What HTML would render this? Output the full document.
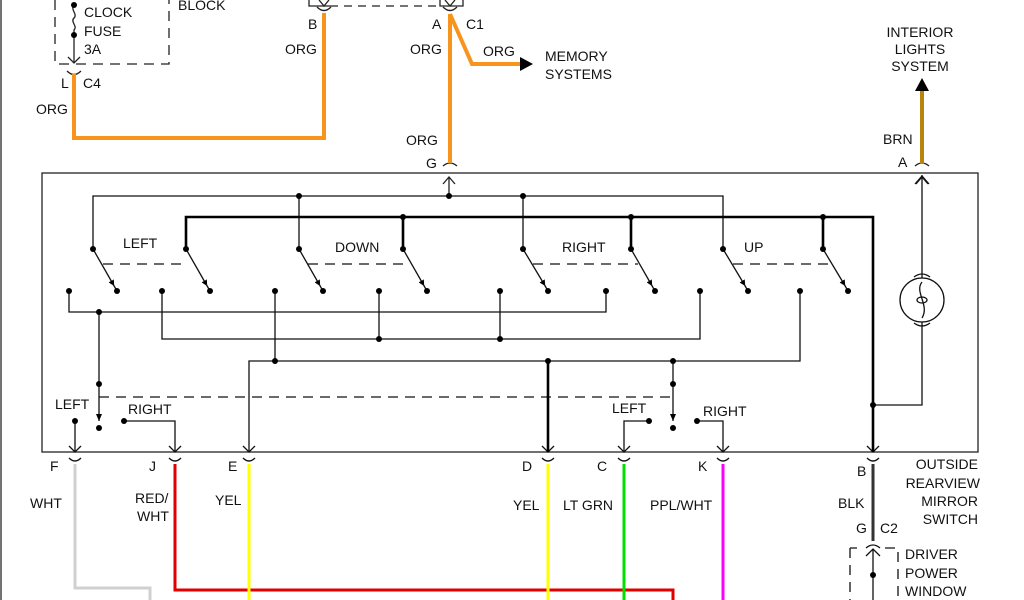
<!DOCTYPE html>
<html><head><meta charset="utf-8"><style>
html,body{margin:0;padding:0;background:#fff;}
svg{display:block}
text{font-family:"Liberation Sans",sans-serif;font-size:14px;fill:#111;}
</style></head><body>
<svg width="1024" height="600" viewBox="0 0 1024 600" xmlns="http://www.w3.org/2000/svg">
<defs>
<marker id="ah" viewBox="0 0 10 10" refX="6" refY="5" markerWidth="6" markerHeight="6" orient="auto" markerUnits="userSpaceOnUse"><path d="M0 0 L10 5 L0 10 z" fill="#000"/></marker>
</defs>
<rect width="1024" height="600" fill="#fff"/>
<line x1="1" y1="0" x2="1" y2="600" stroke="#444" stroke-width="1.5"/>
<g stroke="#222" stroke-width="1.3" fill="none">
<path d="M55 0 V64 H169 V0" stroke-dasharray="10,7"/>
<path d="M74 5 C70 10 78 14 74 18 C70 22 78 26 74 30 V63"/>
<path d="M68 57 L74 63 L80 57"/>
<path d="M67 71 Q74 78 81 71"/>
<path d="M309 0 V6 H330" /><path d="M317 7 Q324 14 331 7"/>
<path d="M330 6 H440" stroke-dasharray="8,6"/>
<path d="M440 0 V6 H463 V0"/>
<path d="M443 7 Q450 14 457 7"/>
<path d="M319 0 L324 6 L329 0 M445 0 L450 6 L455 0"/>
<path d="M443 166 Q450 160 457 166"/>
<path d="M443 184 L449 177 L455 184 M449 177 V196"/>
<path d="M915 166 Q922 160 929 166"/>
<path d="M916 184 L922 177 L928 184"/>
</g>
<g fill="none" stroke="#f7941d" stroke-width="4">
<path d="M74 74 V138 H324 V13"/>
<path d="M450 14 V163"/>
<path d="M450 14 L472 64 H522"/>
</g>
<polygon points="520,57 533,64 520,71" fill="#000"/>
<line x1="922" y1="88" x2="922" y2="164" stroke="#b8860b" stroke-width="4"/>
<polygon points="915,91 929,91 922,78" fill="#000"/>
<rect x="42" y="173" width="936" height="279" fill="none" stroke="#222" stroke-width="1.3"/>
<g stroke="#111" stroke-width="1.3" fill="none">
<path d="M93 249 V196 H723 V249"/>
<path d="M299 196 V249 M523 196 V249"/>
<path d="M69 291 V312 H606 V291"/>
<path d="M162 291 V339 H700 V291"/>
<path d="M379 291 V339 M500 291 V339"/>
<path d="M249 452 V361 H800 V291"/>
<path d="M275 291 V361"/>
<path d="M99 312 V421"/>
<path d="M99 397 H673" stroke-dasharray="10,7"/>
<path d="M673 361 V421"/>
<path d="M75 421 V452 M124 421 H175 V452"/>
<path d="M649 421 H624 V452 M697 421 H723 V452"/>
<path d="M922 175 V278 M922 322 V405 H873"/>
<circle cx="922" cy="300" r="22"/>
<path d="M914 277 Q922 271 930 277 M914 323 Q922 329 930 323"/>
<path d="M922 282 C914 292 930 305 922 318"/>
<ellipse cx="922" cy="300" rx="5" ry="3"/>
<path d="M93 249 L113 284" marker-end="url(#ah)"/>
<path d="M186 249 L206 284" marker-end="url(#ah)"/>
<path d="M299 249 L319 284" marker-end="url(#ah)"/>
<path d="M403 249 L423 284" marker-end="url(#ah)"/>
<path d="M523 249 L544 284" marker-end="url(#ah)"/>
<path d="M631 249 L651 284" marker-end="url(#ah)"/>
<path d="M723 249 L744 284" marker-end="url(#ah)"/>
<path d="M823 249 L844 284" marker-end="url(#ah)"/>
<path d="M113 284 L117 291 M206 284 L210 291 M319 284 L323 291 M423 284 L427 291 M544 284 L548 291 M651 284 L655 291 M744 284 L748 291 M844 284 L848 291"/>
<path d="M103 264 H187 M308 264 H410 M533 264 H638 M733 264 H830" stroke-dasharray="10,7"/>
<path d="M69 446 L75 452 L81 446 M169 446 L175 452 L181 446 M243 446 L249 452 L255 446 M542 446 L548 452 L554 446 M618 446 L624 452 L630 446 M717 446 L723 452 L729 446 M867 446 L873 452 L879 446"/>
<path d="M69 458 Q75 464 81 458 M169 458 Q175 464 181 458 M243 458 Q249 464 255 458 M542 458 Q548 464 554 458 M618 458 Q624 464 630 458 M717 458 Q723 464 729 458 M867 458 Q873 464 879 458"/>
<path d="M915 184 L922 176 L929 184"/>
<path d="M866 548 Q873 542 880 548"/>
<path d="M850 548 H857 M885 548 H898 V600 M850 548 V600" stroke-dasharray="10,7"/>
<path d="M866 556 L873 549 L880 556 M873 549 V600"/>
</g>
<g stroke="#000" stroke-width="2.6" fill="none">
<path d="M186 249 V217 H873 V452"/>
<path d="M403 217 V249 M631 217 V249 M823 217 V249"/>
<path d="M548 361 V452"/>
</g>
<g fill="#000">
<circle cx="299" cy="196" r="3"/><circle cx="449" cy="196" r="3"/><circle cx="523" cy="196" r="3"/>
<circle cx="403" cy="217" r="3"/><circle cx="631" cy="217" r="3"/><circle cx="823" cy="217" r="3"/>
<circle cx="93" cy="249" r="3"/><circle cx="186" cy="249" r="3"/><circle cx="299" cy="249" r="3"/><circle cx="403" cy="249" r="3"/><circle cx="523" cy="249" r="3"/><circle cx="631" cy="249" r="3"/><circle cx="723" cy="249" r="3"/><circle cx="823" cy="249" r="3"/>
<circle cx="117" cy="291" r="3"/><circle cx="210" cy="291" r="3"/><circle cx="323" cy="291" r="3"/><circle cx="427" cy="291" r="3"/><circle cx="548" cy="291" r="3"/><circle cx="655" cy="291" r="3"/><circle cx="748" cy="291" r="3"/><circle cx="848" cy="291" r="3"/>
<circle cx="69" cy="291" r="3"/><circle cx="162" cy="291" r="3"/><circle cx="275" cy="291" r="3"/><circle cx="379" cy="291" r="3"/><circle cx="500" cy="291" r="3"/><circle cx="606" cy="291" r="3"/><circle cx="700" cy="291" r="3"/><circle cx="800" cy="291" r="3"/>
<circle cx="99" cy="312" r="3"/><circle cx="379" cy="339" r="3"/><circle cx="500" cy="339" r="3"/>
<circle cx="275" cy="361" r="3"/><circle cx="548" cy="361" r="3"/><circle cx="673" cy="361" r="3"/>
<circle cx="99" cy="384" r="3"/><circle cx="673" cy="384" r="3"/>
<circle cx="99" cy="428" r="3"/><circle cx="673" cy="428" r="3"/>
<circle cx="75" cy="421" r="3"/><circle cx="124" cy="421" r="3"/><circle cx="649" cy="421" r="3"/><circle cx="697" cy="421" r="3"/>
<circle cx="873" cy="405" r="3"/><circle cx="74" cy="5" r="3"/><circle cx="74" cy="35" r="3"/><circle cx="873" cy="575" r="3"/>
<polygon points="96,414 102,414 99,421"/><polygon points="670,414 676,414 673,421"/>
</g>
<g fill="none" stroke-width="3">
<path d="M75 464 V588 H150 V600" stroke="#d0d0d0"/>
<path d="M175 464 V590 H673 V600" stroke="#e00000"/>
<path d="M249 464 V600" stroke="#ffff00"/>
<path d="M548 464 V600" stroke="#ffff00"/>
<path d="M624 464 V600" stroke="#00e000"/>
<path d="M723 464 V600" stroke="#ff00ff"/>
<path d="M873 464 V541" stroke="#333"/>
</g>
<text x="178" y="10">BLOCK</text>
<text x="84" y="17">CLOCK</text><text x="84" y="36">FUSE</text><text x="84" y="54">3A</text>
<text x="61" y="88">L</text><text x="83" y="88">C4</text>
<text x="36" y="114">ORG</text>
<text x="308" y="29">B</text><text x="285" y="54">ORG</text>
<text x="432" y="29">A</text><text x="466" y="29">C1</text>
<text x="410" y="54">ORG</text><text x="483" y="56">ORG</text>
<text x="545" y="61">MEMORY</text><text x="545" y="79">SYSTEMS</text>
<text x="406" y="145">ORG</text><text x="426" y="168">G</text>
<text x="920" y="37" text-anchor="middle">INTERIOR</text><text x="920" y="54" text-anchor="middle">LIGHTS</text><text x="920" y="71" text-anchor="middle">SYSTEM</text>
<text x="883" y="144">BRN</text><text x="898" y="167">A</text>
<text x="123" y="248">LEFT</text><text x="335" y="252">DOWN</text><text x="562" y="252">RIGHT</text><text x="744" y="252">UP</text>
<text x="55" y="409">LEFT</text><text x="128" y="414">RIGHT</text><text x="612" y="413">LEFT</text><text x="703" y="416">RIGHT</text>
<text x="50" y="471">F</text><text x="149" y="471">J</text><text x="228" y="471">E</text><text x="522" y="471">D</text><text x="597" y="471">C</text><text x="698" y="471">K</text><text x="857" y="476">B</text>
<text x="978" y="469" text-anchor="end">OUTSIDE</text><text x="980" y="488" text-anchor="end">REARVIEW</text><text x="978" y="506" text-anchor="end">MIRROR</text><text x="978" y="524" text-anchor="end">SWITCH</text>
<text x="30" y="508">WHT</text><text x="135" y="503">RED/</text><text x="137" y="521">WHT</text><text x="215" y="505">YEL</text>
<text x="513" y="510">YEL</text><text x="563" y="510">LT GRN</text><text x="650" y="510">PPL/WHT</text><text x="838" y="508">BLK</text>
<text x="856" y="533">G</text><text x="880" y="533">C2</text>
<text x="905" y="559">DRIVER</text><text x="905" y="578">POWER</text><text x="905" y="596">WINDOW</text>
</svg>
</body></html>
